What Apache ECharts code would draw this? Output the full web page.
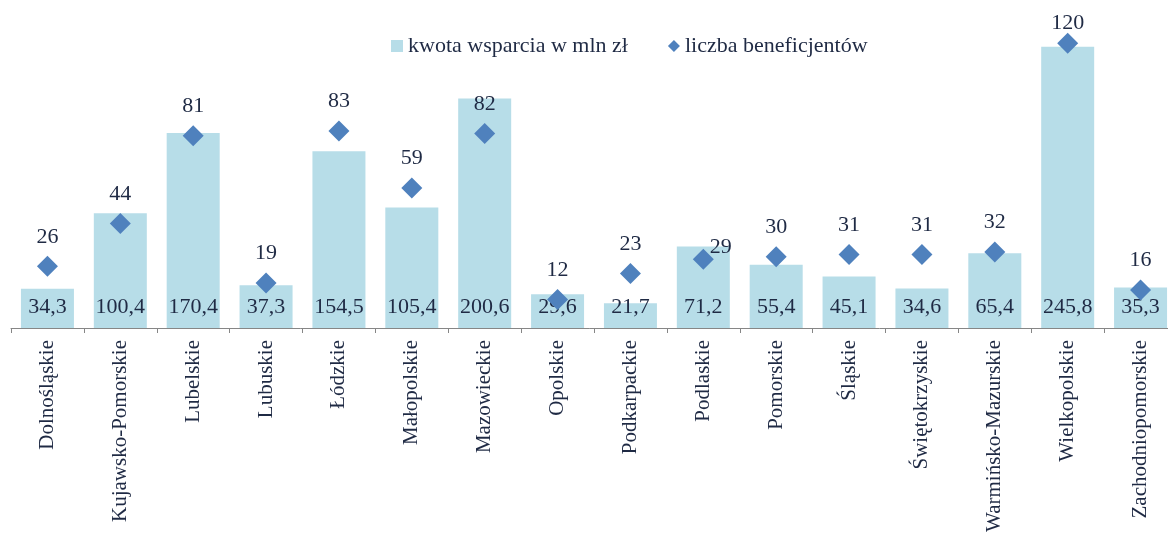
<!DOCTYPE html>
<html>
<head>
<meta charset="utf-8">
<script src="https://cdn.jsdelivr.net/npm/echarts@6/dist/echarts.min.js"></script>
<style>
  html, body { margin: 0; padding: 0; background: #fff; }
  #chart { width: 1168px; height: 533px; }
</style>
</head>
<body>
<div id="chart"></div>
<script>
// województwa
const regions = [
  'Dolnośląskie', 'Kujawsko-Pomorskie', 'Lubelskie', 'Lubuskie', 'Łódzkie',
  'Małopolskie', 'Mazowieckie', 'Opolskie', 'Podkarpackie', 'Podlaskie',
  'Pomorskie', 'Śląskie', 'Świętokrzyskie', 'Warmińsko-Mazurskie',
  'Wielkopolskie', 'Zachodniopomorskie'
];
// kwota wsparcia w mln zł
const kwota = [34.3, 100.4, 170.4, 37.3, 154.5, 105.4, 200.6, 29.6, 21.7, 71.2, 55.4, 45.1, 34.6, 65.4, 245.8, 35.3];
// liczba beneficjentów
const liczba = [26, 44, 81, 19, 83, 59, 82, 12, 23, 29, 30, 31, 31, 32, 120, 16];

const FONT = '"Liberation Serif", "DejaVu Serif", serif';
const TEXT = '#1f2a44';

const chart = echarts.init(document.getElementById('chart'));

// kilka etykiet przesuniętych jak w oryginale (kolizje / górna krawędź)
const liczbaData = liczba.map((v, i) => {
  if (regions[i] === 'Podlaskie') {
    return { value: v, label: { position: 'right', distance: 0, offset: [-4, -12] } };
  }
  if (regions[i] === 'Wielkopolskie') {
    return { value: v, label: { offset: [0, 9] } };
  }
  return v;
});

chart.setOption({
  animation: false,
  textStyle: { fontFamily: FONT },
  legend: {
    left: 386,
    top: 30,
    itemWidth: 12,
    itemHeight: 12,
    itemGap: 40,
    textStyle: { fontFamily: FONT, fontSize: 22, color: TEXT },
    data: [
      { name: 'kwota wsparcia w mln zł', icon: 'rect' },
      { name: 'liczba beneficjentów', icon: 'diamond' }
    ]
  },
  grid: { left: 11, top: 10, width: 1166, bottom: 205, outerBoundsMode: 'none' },
  xAxis: {
    type: 'category',
    data: regions,
    axisLine: { lineStyle: { color: '#868686', width: 1 } },
    axisTick: { show: true, length: 5, lineStyle: { color: '#868686', width: 1 } },
    axisLabel: {
      rotate: 90,
      margin: 12,
      interval: 0,
      fontFamily: FONT,
      fontSize: 21,
      color: TEXT
    }
  },
  yAxis: [
    { type: 'value', min: 0, max: 278, show: false, splitLine: { show: false } },
    { type: 'value', min: 0, max: 134, show: false, splitLine: { show: false } }
  ],
  series: [
    {
      name: 'kwota wsparcia w mln zł',
      type: 'bar',
      yAxisIndex: 0,
      barWidth: 53,
      itemStyle: { color: '#b7dde8' },
      label: {
        show: true,
        position: 'insideBottom',
        distance: 10,
        fontFamily: FONT,
        fontSize: 22,
        color: TEXT,
        formatter: p => p.value.toFixed(1).replace('.', ',')
      },
      data: kwota
    },
    {
      name: 'liczba beneficjentów',
      type: 'scatter',
      yAxisIndex: 1,
      symbol: 'diamond',
      symbolSize: [21, 21],
      itemStyle: { color: '#4f81bd', opacity: 1 },
      label: {
        show: true,
        position: 'top',
        distance: 8,
        fontFamily: FONT,
        fontSize: 22,
        color: TEXT
      },
      z: 3,
      data: liczbaData
    }
  ]
});
</script>
</body>
</html>
